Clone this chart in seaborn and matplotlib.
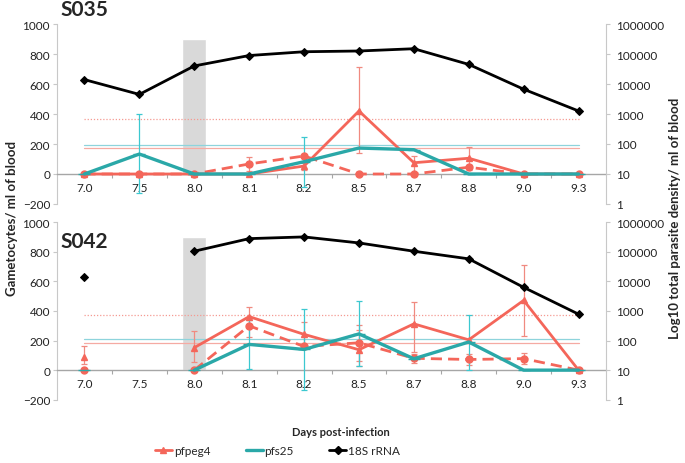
import numpy as np
import pandas as pd
import matplotlib
matplotlib.use("Agg")
import matplotlib.pyplot as plt
from matplotlib.lines import Line2D
from matplotlib.ticker import FixedLocator, FuncFormatter, NullLocator
import seaborn as sns

nan = np.nan

days = ["7.0", "7.5", "8.0", "8.1", "8.2", "8.5", "8.7", "8.8", "9.0", "9.3"]

# ---------------- S035 ----------------
s035_pfpeg4 = [0, 0, 0, 0, 53, 420, 75, 105, 0, 0]
s035_pfpeg4_lo = [nan, nan, nan, nan, 25, 140, 5, 45, nan, nan]
s035_pfpeg4_hi = [nan, nan, nan, nan, 75, 713, 118, 178, nan, nan]
s035_pfpeg4_b = [0, 0, 0, 67, 120, 0, 0, 45, 0, 0]
s035_pfpeg4_b_lo = [nan, nan, nan, 18, nan, nan, nan, 25, nan, nan]
s035_pfpeg4_b_hi = [nan, nan, nan, 110, nan, nan, nan, 62, nan, nan]
s035_pfs25 = [0, 133, 0, 0, 82, 173, 162, 0, 0, 0]
s035_pfs25_lo = [nan, -130, nan, nan, -85, nan, nan, nan, nan, nan]
s035_pfs25_hi = [nan, 397, nan, nan, 245, nan, nan, nan, nan, nan]
s035_18s = [14000, 4500, 40000, 89000, 119000, 126000, 150000, 45000, 6700, 1260]
s035_thresholds = [367, 195, 173]

# ---------------- S042 ----------------
s042_pfpeg4 = [90, nan, 152, 362, 242, 138, 313, 205, 472, 0]
s042_pfpeg4_lo = [40, nan, 58, 225, 160, 29, 125, nan, 230, nan]
s042_pfpeg4_hi = [163, nan, 268, 424, 324, 270, 458, nan, 710, nan]
s042_pfpeg4_b = [0, nan, 0, 300, 160, 185, 80, 72, 78, 0]
s042_pfpeg4_b_lo = [nan, nan, nan, nan, nan, 62, 50, 35, 40, nan]
s042_pfpeg4_b_hi = [nan, nan, nan, nan, nan, 303, 110, 110, 115, nan]
s042_pfs25 = [0, nan, 0, 174, 140, 245, 77, 190, 0, 0]
s042_pfs25_lo = [nan, nan, nan, 8, -132, 25, nan, 0, nan, nan]
s042_pfs25_hi = [nan, nan, nan, 340, 414, 469, nan, 370, nan, nan]
s042_18s = [14000, nan, 105000, 280000, 320000, 200000, 105000, 58000, 6300, 780]
s042_thresholds = [376, 208, 186]

highlight_day = "8.0"
highlight_top = 900

RED = "#f4665a"
RED_ERR = "#f08a80"
TEAL = "#2aa8a8"
TEAL_ERR = "#3cc8d0"
GREY = "#a6a6a6"

sns.set_style("white")
plt.rcParams["font.family"] = ["Lato", "DejaVu Sans"]

fig = plt.figure(figsize=(6.85, 4.64), dpi=100)
ax_top = fig.add_axes([0.0832, 0.5582, 0.8015, 0.3879])
ax_bot = fig.add_axes([0.0832, 0.1364, 0.8015, 0.3824])

xi = np.arange(len(days))


def runs_of(v):
    ok = ~np.isnan(v)
    runs, cur = [], []
    for i in range(len(v)):
        if ok[i]:
            cur.append(i)
        else:
            if cur:
                runs.append(cur)
            cur = []
    if cur:
        runs.append(cur)
    return runs


def draw_series(ax, vals, color, lw, marker, ms, ls="-"):
    v = np.asarray(vals, dtype=float)
    for r in runs_of(v):
        df = pd.DataFrame({"x": xi[r], "y": v[r]})
        sns.lineplot(data=df, x="x", y="y", ax=ax, color=color, lw=lw,
                     marker=marker, markersize=ms, markeredgewidth=1,
                     markeredgecolor=color, linestyle=ls, legend=False,
                     zorder=4)


def draw_err(ax, vals, lo, hi, color):
    v = np.asarray(vals, dtype=float)
    lo = np.asarray(lo, dtype=float)
    hi = np.asarray(hi, dtype=float)
    ok = ~np.isnan(lo)
    ax.errorbar(xi[ok], v[ok], yerr=[v[ok] - lo[ok], hi[ok] - v[ok]],
                fmt="none", ecolor=color, elinewidth=0.9, capsize=2.5,
                capthick=0.9, zorder=3)


def panel(ax, pf, pf_lo, pf_hi, pfb, pfb_lo, pfb_hi, s25, s25_lo, s25_hi,
          rrna, thr):
    ax.set_xlim(-0.5, len(days) - 0.5)
    ax.set_ylim(-200, 1000)
    hx = days.index(highlight_day)
    ax.bar([hx], [highlight_top], width=0.44, color="#d9d9d9", zorder=0)
    ax.plot([0, len(days) - 1], [thr[0], thr[0]], color="#f59a92", lw=0.9,
            ls=(0, (1, 1.5)), zorder=1)
    ax.plot([0, len(days) - 1], [thr[1], thr[1]], color="#8ed4dc", lw=0.9,
            zorder=1)
    ax.plot([0, len(days) - 1], [thr[2], thr[2]], color="#f5aaa3", lw=0.9,
            zorder=1)
    draw_err(ax, pf, pf_lo, pf_hi, RED_ERR)
    draw_err(ax, pfb, pfb_lo, pfb_hi, RED_ERR)
    draw_err(ax, s25, s25_lo, s25_hi, TEAL_ERR)
    draw_series(ax, pfb, RED, 2.0, "o", 5, ls=(0, (4, 2.2)))
    draw_series(ax, pf, RED, 2.0, "^", 5)
    draw_series(ax, s25, TEAL, 2.4, "_", 8)

    ax.set_xlabel("")
    ax.set_ylabel("")
    ax.spines["top"].set_visible(False)
    ax.spines["right"].set_visible(False)
    ax.spines["left"].set_color("#c8c8c8")
    ax.spines["left"].set_linewidth(0.8)
    ax.spines["bottom"].set_position(("data", 0))
    ax.spines["bottom"].set_color(GREY)
    ax.spines["bottom"].set_linewidth(1.0)
    ax.set_yticks(np.arange(-200, 1001, 200))
    ax.set_xticks(xi)
    ax.set_xticklabels(days)
    ax.xaxis.set_minor_locator(FixedLocator(np.arange(0.5, len(days) - 1, 1.0)))
    ax.tick_params(axis="x", which="major", length=0, pad=6, labelsize=8.5,
                   colors="#222222")
    ax.tick_params(axis="x", which="minor", length=3, width=0.8, color=GREY,
                   direction="out", bottom=True)
    ax.tick_params(axis="y", length=3, width=0.8, color="#c8c8c8", left=True,
                   direction="out", labelsize=8.5, labelcolor="#222222", pad=2)

    ax2 = ax.twinx()
    ax2.set_yscale("log")
    ax2.set_ylim(1, 1e6)
    r = np.asarray(rrna, dtype=float)
    for rr in runs_of(r):
        df = pd.DataFrame({"x": xi[rr], "y": r[rr]})
        sns.lineplot(data=df, x="x", y="y", ax=ax2, color="black", lw=2.0,
                     marker="D", markersize=3.6, markeredgecolor="black",
                     legend=False)
    ax2.set_xlim(-0.5, len(days) - 0.5)
    ax2.set_ylabel("")
    ax2.set_xlabel("")
    ax2.yaxis.set_major_locator(FixedLocator([10 ** k for k in range(7)]))
    ax2.yaxis.set_minor_locator(NullLocator())
    ax2.yaxis.set_major_formatter(FuncFormatter(lambda v, p: "%d" % round(v)))
    for s in ["top", "left", "bottom"]:
        ax2.spines[s].set_visible(False)
    ax2.spines["right"].set_color("#c8c8c8")
    ax2.spines["right"].set_linewidth(0.8)
    ax2.tick_params(axis="y", length=3, width=0.8, color="#c8c8c8", right=True,
                    direction="out", labelsize=8.5, labelcolor="#222222", pad=4)
    return ax2


panel(ax_top, s035_pfpeg4, s035_pfpeg4_lo, s035_pfpeg4_hi,
      s035_pfpeg4_b, s035_pfpeg4_b_lo, s035_pfpeg4_b_hi,
      s035_pfs25, s035_pfs25_lo, s035_pfs25_hi, s035_18s, s035_thresholds)
panel(ax_bot, s042_pfpeg4, s042_pfpeg4_lo, s042_pfpeg4_hi,
      s042_pfpeg4_b, s042_pfpeg4_b_lo, s042_pfpeg4_b_hi,
      s042_pfs25, s042_pfs25_lo, s042_pfs25_hi, s042_18s, s042_thresholds)

fig.text(0.088, 0.978, "S035", fontsize=15, fontweight="bold", va="center",
         ha="left")
fig.text(0.088, 0.478, "S042", fontsize=15, fontweight="bold", va="center",
         ha="left")

fig.text(0.018, 0.53, "Gametocytes/ ml of blood", rotation=90, fontsize=9.5,
         fontweight="bold", va="center", ha="center")
fig.text(0.985, 0.53, "Log10 total parasite density/ ml of blood",
         rotation=90, fontsize=9.5, fontweight="bold", va="center",
         ha="center")
fig.text(0.497, 0.067, "Days post-infection", fontsize=8, fontweight="bold",
         va="center", ha="center")

handles = [
    Line2D([], [], color=RED, lw=2, marker="^", markersize=5),
    Line2D([], [], color=TEAL, lw=2.4),
    Line2D([], [], color="black", lw=2, marker="D", markersize=3.6),
]
fig.legend(handles, ["pfpeg4", "pfs25", "18S rRNA"], loc="center",
           bbox_to_anchor=(0.405, 0.027), ncol=3, frameon=False,
           fontsize=8.5, columnspacing=3.0, handlelength=1.45,
           handletextpad=0.15)

fig.savefig("out.png", dpi=100)
